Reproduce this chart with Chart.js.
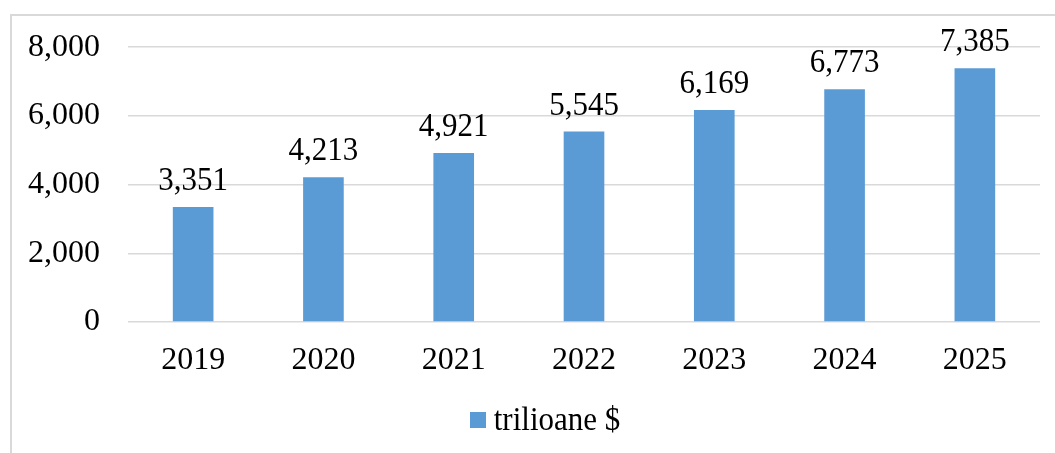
<!DOCTYPE html>
<html>
<head>
<meta charset="utf-8">
<script src="https://cdn.jsdelivr.net/npm/chart.js@4/dist/chart.umd.min.js"></script>
<style>
  html, body { margin: 0; padding: 0; background: #ffffff; overflow: hidden; }
  #wrap { position: relative; width: 1055px; height: 453px; }
  #frame { position: absolute; left: 10px; top: 14px; width: 1100px; height: 500px; border: 2px solid #d9d9d9; box-sizing: border-box; pointer-events: none; }
  canvas { position: absolute; left: 0; top: 0; }
</style>
</head>
<body>
<div id="wrap">
  <canvas id="c" width="1055" height="453"></canvas>
  <div id="frame"></div>
</div>
<script>
const categories = ['2019', '2020', '2021', '2022', '2023', '2024', '2025'];
const seriesName = 'trilioane $';
const seriesValues = [3351, 4213, 4921, 5545, 6169, 6773, 7385];
const yTicks = [0, 2000, 4000, 6000, 8000];

const FONT = "'Liberation Serif', 'Times New Roman', serif";
const BAR = '#5B9BD5';
const GRID = '#d9d9d9';
const fmt = v => Number(v).toLocaleString('en-US');

const valueLabels = {
  id: 'valueLabels',
  afterDatasetsDraw(chart) {
    const ctx = chart.ctx;
    const meta = chart.getDatasetMeta(0);
    ctx.save();
    ctx.font = '31px ' + FONT;
    ctx.fillStyle = '#000';
    ctx.textAlign = 'center';
    ctx.textBaseline = 'alphabetic';
    meta.data.forEach((bar, i) => {
      const y = bar.y - 17;
      ctx.save();
      ctx.translate(bar.x, y);
      ctx.scale(1, 1.08);
      ctx.fillText(fmt(chart.data.datasets[0].data[i]), 0, 0);
      ctx.restore();
    });
    ctx.restore();
  }
};

const customLegend = {
  id: 'customLegend',
  afterDraw(chart) {
    const ctx = chart.ctx;
    const ds = chart.data.datasets[0];
    ctx.save();
    ctx.font = '31px ' + FONT;
    const tw = ctx.measureText(ds.label).width;
    const box = 16, gap = 8;
    const total = box + gap + tw;
    const cx = 545;
    const x0 = cx - total / 2;
    const cy = 420;
    ctx.fillStyle = ds.backgroundColor;
    ctx.fillRect(Math.round(x0), cy - 8, box, box);
    ctx.fillStyle = '#000';
    ctx.textAlign = 'left';
    ctx.textBaseline = 'middle';
    ctx.translate(x0 + box + gap, cy + 1);
    ctx.scale(1, 1.08);
    ctx.fillText(ds.label, 0, 0);
    ctx.restore();
  }
};

new Chart(document.getElementById('c'), {
  type: 'bar',
  data: {
    labels: categories,
    datasets: [{
      label: seriesName,
      data: seriesValues,
      backgroundColor: BAR,
      borderWidth: 0,
      categoryPercentage: 1.0,
      barPercentage: 0.312
    }]
  },
  options: {
    responsive: false,
    animation: false,
    devicePixelRatio: 1,
    layout: { padding: { left: 0, top: 46, right: 15, bottom: 61 } },
    plugins: {
      legend: { display: false },
      tooltip: { enabled: false },
      title: { display: false }
    },
    scales: {
      x: {
        grid: { display: false, drawTicks: false },
        border: { display: false },
        ticks: { color: '#000', font: { family: FONT, size: 32 }, padding: 19 },
        afterFit: s => { s.height = 70; }
      },
      y: {
        min: 0,
        max: 8000,
        afterBuildTicks: s => { s.ticks = yTicks.map(v => ({ value: v })); },
        grid: { color: GRID, lineWidth: 1.5, drawTicks: false },
        border: { display: false },
        ticks: { color: '#000', font: { family: FONT, size: 32 }, padding: 28, callback: v => fmt(v) },
        afterFit: s => { s.width = 128; }
      }
    }
  },
  plugins: [valueLabels, customLegend]
});
</script>
</body>
</html>
